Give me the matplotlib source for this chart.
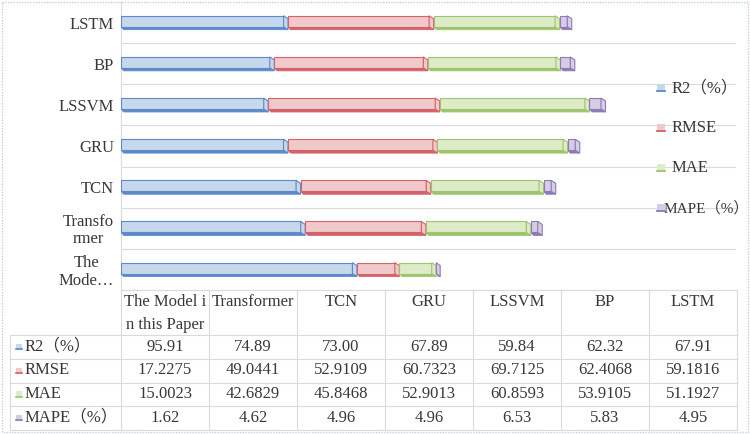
import matplotlib
matplotlib.use('Agg')
import matplotlib.pyplot as plt
from matplotlib import font_manager
from matplotlib.patches import Polygon, Rectangle

avail = {f.name for f in font_manager.fontManager.ttflist}
serif = 'Liberation Serif' if 'Liberation Serif' in avail else 'DejaVu Serif'
plt.rcParams['font.family'] = [serif, 'Noto Sans CJK SC', 'DejaVu Sans']

# ---------------- data ----------------
axis_labels = ['The\nMode…', 'Transfo\nrmer', 'TCN', 'GRU', 'LSSVM', 'BP', 'LSTM']
header_labels = [['The Model i', 'n this Paper'], ['Transformer'], ['TCN'], ['GRU'],
                 ['LSSVM'], ['BP'], ['LSTM']]
series_names = ['R2（%）', 'RMSE', 'MAE', 'MAPE（%）']
r2 = [95.91, 74.89, 73.00, 67.89, 59.84, 62.32, 67.91]
rmse = [17.2275, 49.0441, 52.9109, 60.7323, 69.7125, 62.4068, 59.1816]
mae = [15.0023, 42.6829, 45.8468, 52.9013, 60.8593, 53.9105, 51.1927]
mape = [1.62, 4.62, 4.96, 4.96, 6.53, 5.83, 4.95]
series_vals = [r2, rmse, mae, mape]
series_fmt = ['{:.2f}', '{:.4f}', '{:.4f}', '{:.2f}']

faces = ['#C7D8EC', '#F0C9CB', '#DDEBC9', '#D6CCE4']
edges = ['#5B8BC8', '#D4626A', '#9DC66C', '#8D7AB6']
TXT = '#383838'
GRID = '#DADADA'
FS = 12

W, H = 750, 434
fig = plt.figure(figsize=(W / 100, H / 100), dpi=100)


def fx(px):
    return px / W


def fy(py):
    return 1 - py / H


# ---------------- main chart ----------------
ax = fig.add_axes([fx(121), fy(290), fx(736) - fx(121), fy(2) - fy(290)])
xmax = 250
ax.set_xlim(0, xmax)
ax.set_ylim(-0.5, 6.5)

dx = xmax / 615 * 4.5
dy = 7 / 288 * 3
yt_off, yb_off = 0.165, -0.10

for i in range(len(axis_labels)):
    left = 0.0
    for j, vals in enumerate(series_vals):
        x0, x1 = left, left + vals[i]
        yt, yb = i + yt_off, i + yb_off
        xf = max(x1 - dx, x0 + 0.05)
        ax.add_patch(Polygon([(x0, yb), (xf, yb), (x1, yb - dy), (x0 + dx * 0.6, yb - dy)],
                             closed=True, fc=edges[j], ec=edges[j], lw=0.6, zorder=3))
        ax.add_patch(Rectangle((x0, yb), xf - x0, yt - yb, fc=faces[j], ec=edges[j],
                               lw=0.8, zorder=4))
        ax.add_patch(Polygon([(xf, yt), (x1, yt - dy), (x1, yb - dy), (xf, yb)],
                             closed=True, fc=faces[j], ec=edges[j], lw=0.8, zorder=4))
        left = x1

for k in range(len(axis_labels) - 1):
    ax.axhline(k + 0.5, color=GRID, lw=0.8, zorder=1)

for s in ['top', 'right', 'bottom']:
    ax.spines[s].set_visible(False)
ax.spines['left'].set_color(GRID)
ax.spines['left'].set_linewidth(0.8)
ax.set_xticks([])
ax.set_yticks(range(len(axis_labels)))
ax.set_yticklabels(axis_labels, fontsize=FS, color=TXT, ha='right',
                   multialignment='center', linespacing=1.1)
ax.tick_params(axis='y', length=0, pad=5)
ax.patch.set_alpha(0)

# ---------------- overlay (table, legend, border) ----------------
ov = fig.add_axes([0, 0, 1, 1], zorder=5)
ov.set_xlim(0, W)
ov.set_ylim(H, 0)
ov.axis('off')

col_x = [121 + 88 * i for i in range(8)]
row_y = [335, 358.5, 382.5, 406, 429.5]

ov.plot([col_x[0], col_x[-1]], [290, 290], color=GRID, lw=0.8)
for y in row_y:
    ov.plot([10, col_x[-1]], [y, y], color=GRID, lw=0.8)
ov.plot([10, 10], [row_y[0], row_y[-1]], color=GRID, lw=0.8)
for x in col_x:
    ov.plot([x, x], [290, row_y[-1]], color=GRID, lw=0.8)

for c, lines in enumerate(header_labels):
    cx = (col_x[c] + col_x[c + 1]) / 2
    for li, t in enumerate(lines):
        ov.text(cx, 302 + 23 * li, t, ha='center', va='center', fontsize=FS, color=TXT)

for r, (name, vals, fmt) in enumerate(zip(series_names, series_vals, series_fmt)):
    cy = (row_y[r] + row_y[r + 1]) / 2
    ov.add_patch(Rectangle((16, cy - 3), 6, 6, fc=faces[r], ec='none'))
    ov.plot([16, 22], [cy + 2.5, cy + 2.5], color=edges[r], lw=1.2)
    ov.text(25, cy, name, ha='left', va='center', fontsize=FS, color=TXT)
    for c, v in enumerate(vals):
        cx = (col_x[c] + col_x[c + 1]) / 2
        ov.text(cx, cy, fmt.format(v), ha='center', va='center', fontsize=FS, color=TXT)

# legend
leg_y = [88, 128, 168, 208]
leg_tx = [672, 672, 672, 664]
leg_fs = [FS, FS, FS, 11]
for r, name in enumerate(series_names):
    ly = leg_y[r]
    ov.add_patch(Rectangle((657, ly - 4), 8, 8, fc=faces[r], ec='none'))
    ov.plot([657, 665], [ly + 3.2, ly + 3.2], color=edges[r], lw=1.3)
    ov.text(leg_tx[r], ly, name, ha='left', va='center', fontsize=leg_fs[r], color=TXT)

ov.add_patch(Rectangle((1.5, 1.5), W - 3.5, H - 3.5, fill=False, ec='#C5CFD9',
                       lw=1.0, ls=(0, (1, 1))))

fig.savefig('out.png', dpi=100)
